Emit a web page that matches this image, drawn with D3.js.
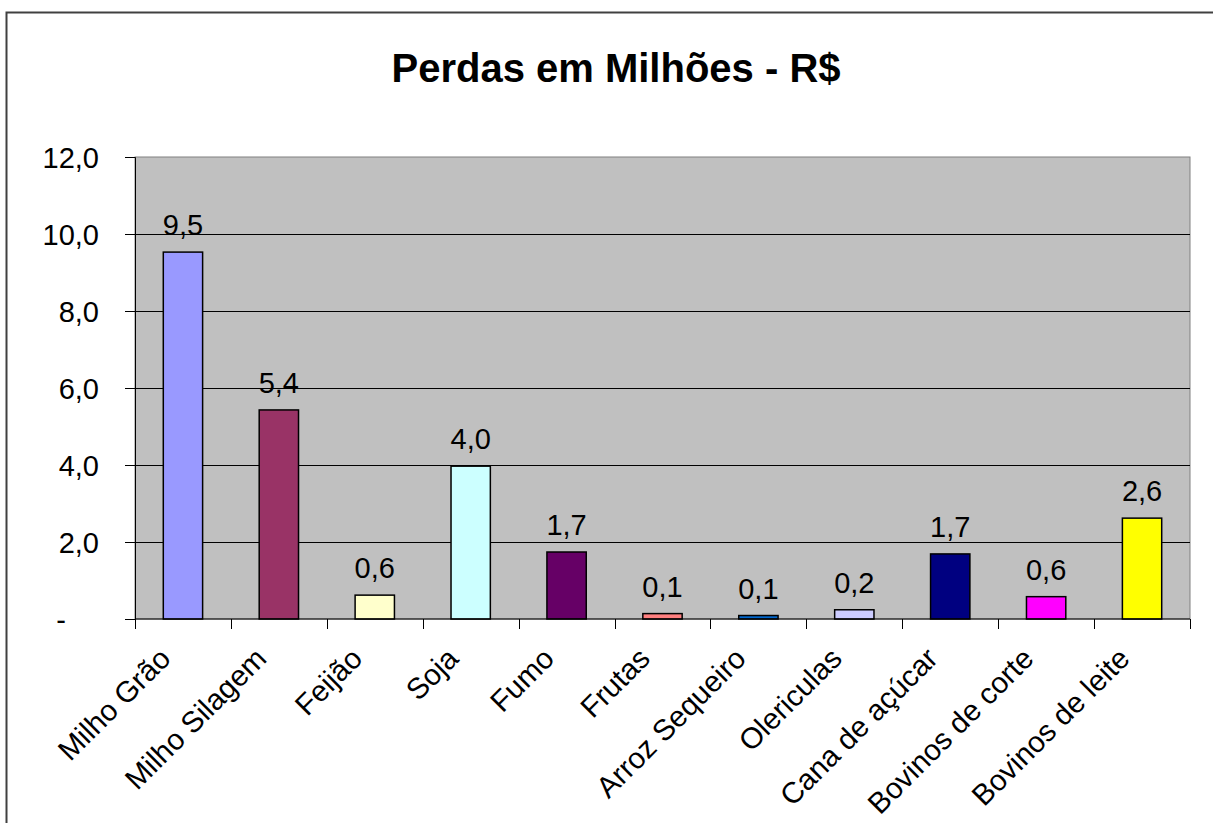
<!DOCTYPE html>
<html>
<head>
<meta charset="utf-8">
<script src="https://cdn.jsdelivr.net/npm/d3@7"></script>
<style>
  body { margin: 0; background: #fff; }
  text { font-family: "Liberation Sans", Arial, sans-serif; fill: #000; }
</style>
</head>
<body>
<div class="chart"></div>
<script>
"use strict";
// dados
const categories = ["Milho Grão", "Milho Silagem", "Feijão", "Soja", "Fumo", "Frutas",
    "Arroz Sequeiro", "Olericulas", "Cana de açúcar", "Bovinos de corte", "Bovinos de leite"];
const values = [9.53, 5.43, 0.62, 3.97, 1.74, 0.14, 0.09, 0.24, 1.69, 0.58, 2.62];
const barColors = ["#9999FF", "#993366", "#FFFFCC", "#CCFFFF", "#660066", "#FF8080",
    "#0066CC", "#CCCCFF", "#000080", "#FF00FF", "#FFFF00"];
const yTicks = [0, 2, 4, 6, 8, 10, 12];
const title = "Perdas em Milhões - R$";

const W = 1213, H = 823;
const margin = {top: 157, right: 23, bottom: 204, left: 135};
const width = W - margin.left - margin.right;
const height = H - margin.top - margin.bottom;

const svg = d3.select(".chart").append("svg")
    .attr("width", W)
    .attr("height", H);

// moldura externa
svg.append("rect")
    .attr("x", 6.5).attr("y", 12.5)
    .attr("width", W + 10).attr("height", H + 10)
    .attr("fill", "#fff")
    .attr("stroke", "#404040")
    .attr("stroke-width", 2);

svg.append("text")
    .attr("x", 616).attr("y", 82)
    .attr("text-anchor", "middle")
    .style("font-size", "40px")
    .style("font-weight", "bold")
    .text(title);

const g = svg.append("g")
    .attr("transform", "translate(" + margin.left + "," + margin.top + ")");

const x = d3.scaleBand().domain(categories).range([0, width]).padding(0);
const y = d3.scaleLinear().domain([0, 12]).range([height, 0]);
const fmt = v => d3.format(".1f")(v).replace(".", ",");

g.append("rect")
    .attr("width", width).attr("height", height)
    .attr("fill", "#C0C0C0")
    .attr("stroke", "#808080")
    .attr("stroke-width", 1);

// linhas de grade
g.selectAll(".grid")
    .data(yTicks.filter(d => d > 0 && d < 12))
    .enter().append("line")
    .attr("class", "grid")
    .attr("x1", 0).attr("x2", width)
    .attr("y1", d => Math.round(y(d)) + 0.5)
    .attr("y2", d => Math.round(y(d)) + 0.5)
    .attr("stroke", "#000")
    .attr("stroke-width", 1);

// eixo Y
const yAxis = d3.axisLeft(y).tickValues(yTicks).tickSize(10).tickPadding(8)
    .tickFormat(d => d === 0 ? "-" : fmt(d));
const yg = g.append("g").attr("class", "y axis").call(yAxis);
yg.select(".domain").attr("stroke", "#000");
yg.selectAll(".tick line").attr("stroke", "#000");
yg.selectAll(".tick text")
    .style("font-size", "29px")
    .attr("x", d => d === 0 ? -69 : -36)
    .attr("dy", "0.35em");

// barras
const bw = x.bandwidth() * 0.41;
g.selectAll(".bar")
    .data(values)
    .enter().append("rect")
    .attr("class", "bar")
    .attr("x", (d, i) => x(categories[i]) + (x.bandwidth() - bw) / 2)
    .attr("y", d => y(d))
    .attr("width", bw)
    .attr("height", d => height - y(d))
    .attr("fill", (d, i) => barColors[i])
    .attr("stroke", "#000")
    .attr("stroke-width", 1.5);

g.selectAll(".val")
    .data(values)
    .enter().append("text")
    .attr("class", "val")
    .attr("x", (d, i) => x(categories[i]) + x.bandwidth() / 2)
    .attr("y", d => y(d) - 17)
    .attr("text-anchor", "middle")
    .style("font-size", "29px")
    .text(d => fmt(d));

// eixo X
g.append("line")
    .attr("x1", 0).attr("x2", width)
    .attr("y1", height).attr("y2", height)
    .attr("stroke", "#000");
const bounds = categories.map(c => x(c)).concat([width]);
g.selectAll(".xtick")
    .data(bounds)
    .enter().append("line")
    .attr("class", "xtick")
    .attr("x1", d => Math.round(d) + 0.5).attr("x2", d => Math.round(d) + 0.5)
    .attr("y1", height).attr("y2", height + 10)
    .attr("stroke", "#000");

g.selectAll(".xlab")
    .data(categories)
    .enter().append("text")
    .attr("class", "xlab")
    .attr("transform", d => "translate(" + (x(d) + x.bandwidth() / 2 - 18) + "," + (height + 34) + ") rotate(-45)")
    .attr("text-anchor", "end")
    .attr("dy", "0.35em")
    .style("font-size", "29.5px")
    .text(d => d);
</script>
</body>
</html>
